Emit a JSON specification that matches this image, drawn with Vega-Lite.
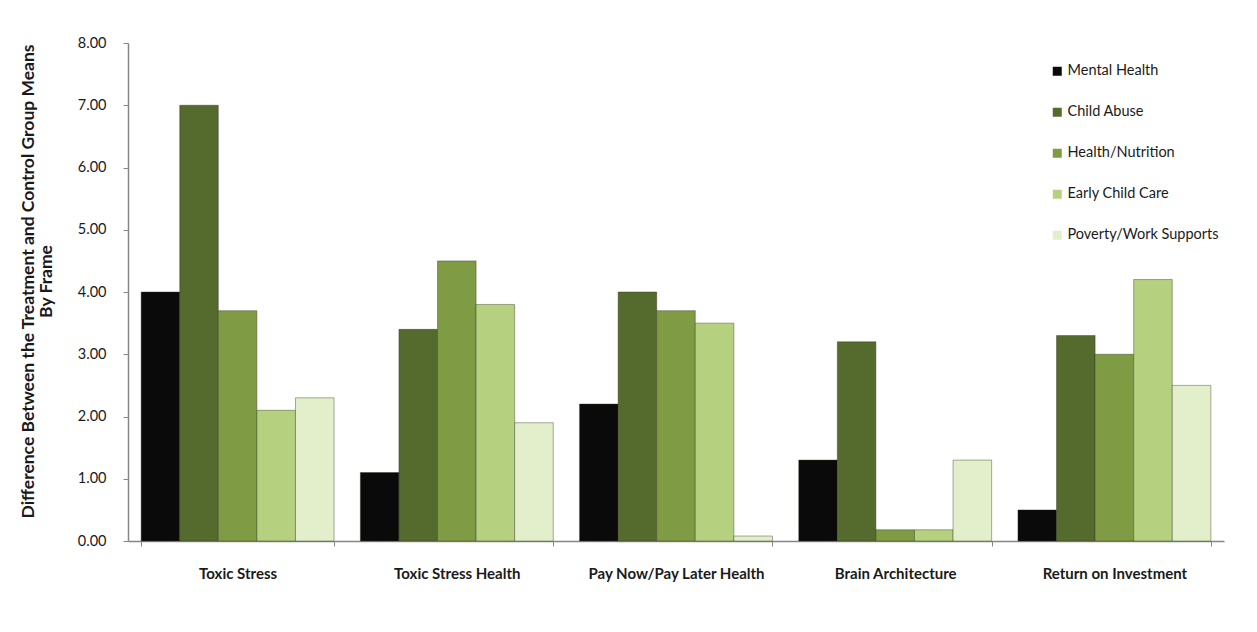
{
  "$schema": "https://vega.github.io/schema/vega-lite/v6.json",
  "width": 1096,
  "height": 498,
  "autosize": {"type": "none"},
  "padding": {"left": 128, "top": 43, "right": 33, "bottom": 91},
  "background": "#ffffff",
  "config": {
    "font": "Lato",
    "view": {"stroke": null},
    "axis": {"labelFont": "Lato", "titleFont": "Lato", "labelColor": "#1a1a1a", "titleColor": "#1a1a1a"}
  },
  "data": {
    "values": [
      {"frame": "Toxic Stress", "issue": "Mental Health", "diff": 4.0},
      {"frame": "Toxic Stress", "issue": "Child Abuse", "diff": 7.0},
      {"frame": "Toxic Stress", "issue": "Health/Nutrition", "diff": 3.7},
      {"frame": "Toxic Stress", "issue": "Early Child Care", "diff": 2.1},
      {"frame": "Toxic Stress", "issue": "Poverty/Work Supports", "diff": 2.3},
      {"frame": "Toxic Stress Health", "issue": "Mental Health", "diff": 1.1},
      {"frame": "Toxic Stress Health", "issue": "Child Abuse", "diff": 3.4},
      {"frame": "Toxic Stress Health", "issue": "Health/Nutrition", "diff": 4.5},
      {"frame": "Toxic Stress Health", "issue": "Early Child Care", "diff": 3.8},
      {"frame": "Toxic Stress Health", "issue": "Poverty/Work Supports", "diff": 1.9},
      {"frame": "Pay Now/Pay Later Health", "issue": "Mental Health", "diff": 2.2},
      {"frame": "Pay Now/Pay Later Health", "issue": "Child Abuse", "diff": 4.0},
      {"frame": "Pay Now/Pay Later Health", "issue": "Health/Nutrition", "diff": 3.7},
      {"frame": "Pay Now/Pay Later Health", "issue": "Early Child Care", "diff": 3.5},
      {"frame": "Pay Now/Pay Later Health", "issue": "Poverty/Work Supports", "diff": 0.08},
      {"frame": "Brain Architecture", "issue": "Mental Health", "diff": 1.3},
      {"frame": "Brain Architecture", "issue": "Child Abuse", "diff": 3.2},
      {"frame": "Brain Architecture", "issue": "Health/Nutrition", "diff": 0.18},
      {"frame": "Brain Architecture", "issue": "Early Child Care", "diff": 0.18},
      {"frame": "Brain Architecture", "issue": "Poverty/Work Supports", "diff": 1.3},
      {"frame": "Return on Investment", "issue": "Mental Health", "diff": 0.5},
      {"frame": "Return on Investment", "issue": "Child Abuse", "diff": 3.3},
      {"frame": "Return on Investment", "issue": "Health/Nutrition", "diff": 3.0},
      {"frame": "Return on Investment", "issue": "Early Child Care", "diff": 4.2},
      {"frame": "Return on Investment", "issue": "Poverty/Work Supports", "diff": 2.5}
    ]
  },
  "mark": {"type": "bar", "strokeWidth": 1, "strokeOpacity": 0.4, "stroke": "#2b3318"},
  "encoding": {
    "x": {
      "field": "frame",
      "type": "nominal",
      "sort": ["Toxic Stress", "Toxic Stress Health", "Pay Now/Pay Later Health", "Brain Architecture", "Return on Investment"],
      "scale": {"paddingInner": 0.12, "paddingOuter": 0.06},
      "axis": {
        "title": null,
        "labelAngle": 0,
        "labelFontSize": 15,
        "labelFontWeight": "bold",
        "labelPadding": 20,
        "tickBand": "extent",
        "tickSize": 5,
        "tickColor": "#868686",
        "domainColor": "#868686",
        "domainWidth": 1.5
      }
    },
    "xOffset": {
      "field": "issue",
      "type": "nominal",
      "sort": ["Mental Health", "Child Abuse", "Health/Nutrition", "Early Child Care", "Poverty/Work Supports"],
      "scale": {"paddingInner": 0, "paddingOuter": 0}
    },
    "y": {
      "field": "diff",
      "type": "quantitative",
      "scale": {"domain": [0, 8], "nice": false},
      "axis": {
        "title": ["Difference Between the Treatment and Control Group Means", "By Frame"],
        "titleFontSize": 17.5,
        "titleFontWeight": "bold",
        "titlePadding": 22,
        "titleY": 238,
        "titleLineHeight": 18,
        "format": ".2f",
        "values": [0, 1, 2, 3, 4, 5, 6, 7, 8],
        "labelOverlap": false,
        "grid": false,
        "labelFontSize": 14.5,
        "labelPadding": 17,
        "tickSize": 5,
        "tickColor": "#868686",
        "domainColor": "#868686",
        "domainWidth": 1.5
      }
    },
    "color": {
      "field": "issue",
      "type": "nominal",
      "sort": ["Mental Health", "Child Abuse", "Health/Nutrition", "Early Child Care", "Poverty/Work Supports"],
      "scale": {
        "domain": ["Mental Health", "Child Abuse", "Health/Nutrition", "Early Child Care", "Poverty/Work Supports"],
        "range": ["#0a0a0a", "#556a2d", "#7f9c45", "#b5d17f", "#e2efca"]
      },
      "legend": {
        "title": null,
        "orient": "none",
        "legendX": 922,
        "legendY": 21,
        "symbolType": "square",
        "symbolSize": 81,
        "symbolStrokeWidth": 0,
        "labelFontSize": 14.5,
        "labelColor": "#1a1a1a",
        "labelOffset": 3,
        "rowPadding": 26
      }
    }
  }
}
